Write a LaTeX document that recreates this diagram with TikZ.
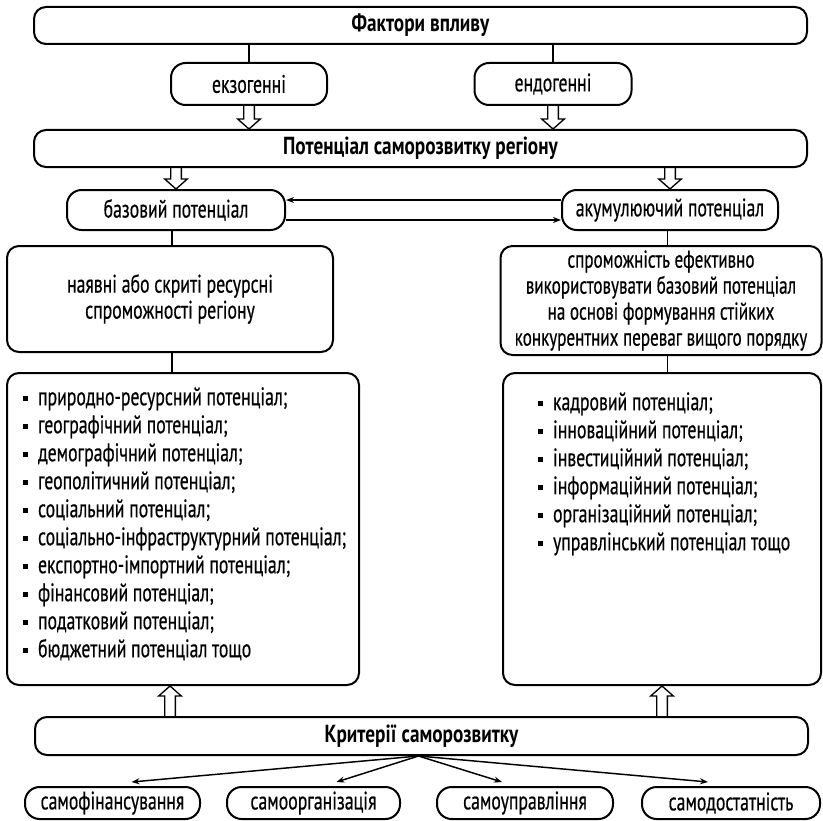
\documentclass[tikz,border=0pt]{standalone}
\usepackage{fontspec}
\setmainfont{PT Sans}[FakeStretch=0.70,FakeBold=0.5,BoldFeatures={FakeStretch=0.78,FakeBold=0}]
\usetikzlibrary{calc,arrows.meta}
\newdimen\pxu \pxu=0.75pt
\newcommand\bul{\rule[3.2pt]{3.6pt}{3.6pt}\hspace{7.5pt}}
% hollow block arrow from #1 to #2 (tip at #2)
\newcommand\fatarrow[2]{%
  \coordinate (fa-s) at (#1);
  \coordinate (fa-e) at (#2);
  \coordinate (fa-b) at ($(fa-e)!7.5pt!(fa-s)$);
  \draw[hollow] ($(fa-s)!4pt!90:(fa-e)$) -- ($(fa-b)!4pt!-90:(fa-s)$)
    -- ($(fa-b)!8.5pt!-90:(fa-s)$) -- (fa-e) -- ($(fa-b)!8.5pt!90:(fa-s)$)
    -- ($(fa-b)!4pt!90:(fa-s)$) -- ($(fa-s)!4pt!-90:(fa-e)$);}
\begin{document}
\begin{tikzpicture}[x=0.75pt,y=-0.75pt,
  box/.style={draw,line width=1.5pt,rounded corners=9pt,inner sep=0pt,align=center,
    font=\fontsize{19}{19.5}\selectfont},
  wide/.style={box,minimum width=773\pxu,minimum height=37\pxu,font=\fontsize{18.5}{19.5}\selectfont\bfseries},
  pill/.style={box,rounded corners=11pt},
  listtext/.style={inner sep=0pt,align=left,anchor=north west,font=\fontsize{19}{21}\selectfont},
  hollow/.style={line width=1pt,line join=miter},
  link/.style={line width=1.1pt},
  tip/.style={line width=1.1pt,-{Stealth[length=6pt,width=4.5pt]}}]
\useasboundingbox (0,0) rectangle (823,820);

% factors
\node[wide] (top) at (420.5,25.5) {Фактори впливу};
\node[pill,minimum width=156\pxu,minimum height=42\pxu] (ekz) at (249,84) {екзогенні};
\node[pill,minimum width=157\pxu,minimum height=42\pxu] (endo) at (553,84) {ендогенні};
\node[wide] (pot) at (420.5,148.5) {Потенціал саморозвитку регіону};

% two kinds of potential
\node[pill,minimum width=218\pxu,minimum height=40\pxu] (baz) at (176,210) {базовий потенціал};
\node[pill,minimum width=216\pxu,minimum height=40\pxu] (aku) at (670,210) {акумулюючий потенціал};

\node[box,minimum width=326\pxu,minimum height=106\pxu] (nav) at (170,299)
  {наявні або скриті ресурсні\\спроможності регіону};
\node[box,minimum width=321\pxu,minimum height=109\pxu,font=\fontsize{18.3}{19.5}\selectfont] (spro) at (661,300.5)
  {спроможність ефективно\\використовувати базовий потенціал\\на основі формування стійких\\конкурентних переваг вищого порядку};

\node[box,minimum width=352\pxu,minimum height=312\pxu] (lleft) at (183,529) {};
\node[listtext] (litems) at (23,387)
  {\bul природно-ресурсний потенціал;\\
   \bul географічний потенціал;\\
   \bul демографічний потенціал;\\
   \bul геополітичний потенціал;\\
   \bul соціальний потенціал;\\
   \bul соціально-інфраструктурний потенціал;\\
   \bul експортно-імпортний потенціал;\\
   \bul фінансовий потенціал;\\
   \bul податковий потенціал;\\
   \bul бюджетний потенціал тощо};
\node[box,minimum width=318\pxu,minimum height=312\pxu] (lright) at (662,529) {};
\node[listtext] (ritems) at (538,392)
  {\bul кадровий потенціал;\\
   \bul інноваційний потенціал;\\
   \bul інвестиційний потенціал;\\
   \bul інформаційний потенціал;\\
   \bul організаційний потенціал;\\
   \bul управлінський потенціал тощо};

% criteria
\node[wide,minimum width=773\pxu,minimum height=38\pxu] (krit) at (421.5,736) {Критерії саморозвитку};
\node[pill,minimum width=175\pxu,minimum height=32\pxu] (b1) at (112.5,803) {самофінансування};
\node[pill,minimum width=173\pxu,minimum height=32\pxu] (b2) at (313.5,803) {самоорганізація};
\node[pill,minimum width=176\pxu,minimum height=32\pxu] (b3) at (525,803) {самоуправління};
\node[pill,minimum width=178\pxu,minimum height=32\pxu] (b4) at (731,803) {самодостатність};

% connectors
\draw[link] (top.south -| ekz.north) -- (ekz.north);
\draw[link] (top.south -| endo.north) -- (endo.north);
\fatarrow{ekz.south}{ekz.south |- pot.north}
\fatarrow{endo.south}{endo.south |- pot.north}
\fatarrow{pot.south -| baz.north}{baz.north}
\fatarrow{pot.south -| aku.north}{aku.north}
\draw[tip] ([yshift=7.5pt]aku.west) -- ([yshift=7.5pt]baz.east);
\draw[tip] ([yshift=-7.5pt]baz.east) -- ([yshift=-7.5pt]aku.west);
\draw[link] ([xshift=-3pt]baz.south) -- ([xshift=-3pt]baz.south |- nav.north);
\draw[link] ([xshift=-3pt]baz.south |- nav.south) -- ([xshift=-3pt]baz.south |- lleft.north);
\draw[link] ([xshift=-2pt]aku.south) -- ([xshift=-2pt]aku.south |- spro.north);
\draw[link] ([xshift=-2pt]aku.south |- spro.south) -- ([xshift=-2pt]aku.south |- lright.north);
\fatarrow{krit.north -| nav.south}{nav.south |- lleft.south}
\fatarrow{krit.north -| lright.south}{lright.south}
\coordinate (fan) at ($(krit.south)+(-3,0)$);
\draw[tip] (fan) -- ($(b1.north)+(19,-4)$);
\draw[tip] (fan) -- ($(b2.north)+(23,-4)$);
\draw[tip] (fan) -- ($(b3.north)+(-23,-4)$);
\draw[tip] (fan) -- ($(b4.north)+(-23,-4)$);
\end{tikzpicture}
\end{document}
